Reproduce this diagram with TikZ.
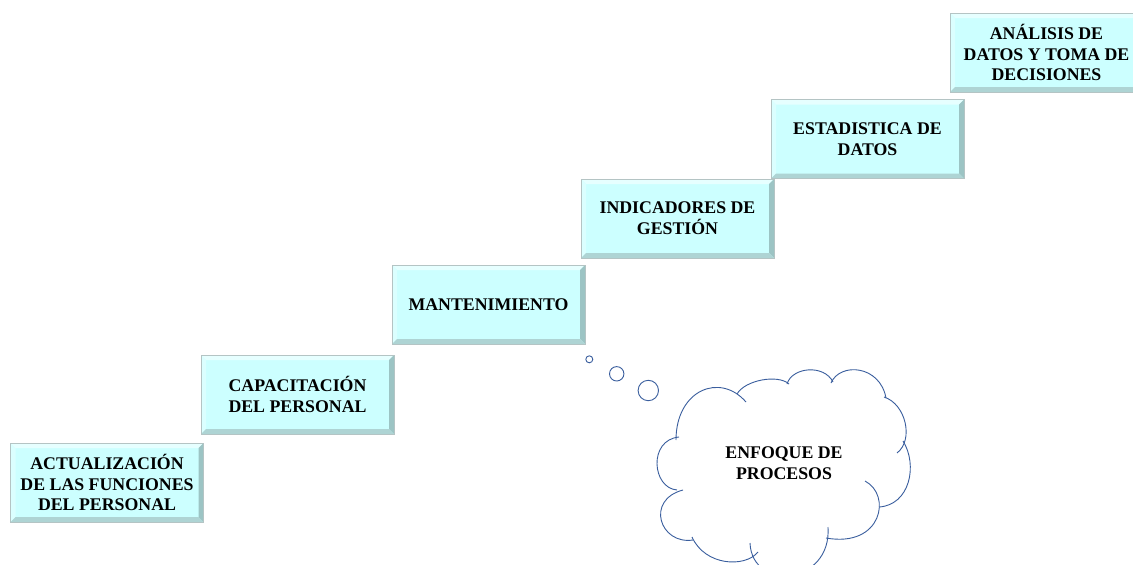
\documentclass[tikz,border=0pt]{standalone}
\usepackage{fontspec}
\setmainfont{Liberation Serif}
\definecolor{boxfill}{HTML}{CCFFFF}
\definecolor{bevtop}{HTML}{E6FFFF}
\definecolor{bevleft}{HTML}{DBFFFF}
\definecolor{bevright}{HTML}{9CC4C4}
\definecolor{bevbottom}{HTML}{AED4D4}
\definecolor{boxline}{HTML}{B4C4C4}
\definecolor{cloudline}{HTML}{3A5E9E}
\tikzset{
  stepbox/.style={minimum width=193pt, minimum height=79pt, inner sep=0pt,
    align=center, fill=boxfill, draw=boxline, line width=0.8pt,
    font=\bfseries\fontsize{17.8}{20.8}\selectfont,
    path picture={
      \fill[bevtop] (path picture bounding box.north west) -- (path picture bounding box.north east)
        -- ([xshift=-5pt,yshift=-5pt]path picture bounding box.north east)
        -- ([xshift=5pt,yshift=-5pt]path picture bounding box.north west) -- cycle;
      \fill[bevleft] (path picture bounding box.north west) -- (path picture bounding box.south west)
        -- ([xshift=5pt,yshift=5pt]path picture bounding box.south west)
        -- ([xshift=5pt,yshift=-5pt]path picture bounding box.north west) -- cycle;
      \fill[bevright] (path picture bounding box.north east) -- (path picture bounding box.south east)
        -- ([xshift=-5pt,yshift=5pt]path picture bounding box.south east)
        -- ([xshift=-5pt,yshift=-5pt]path picture bounding box.north east) -- cycle;
      \fill[bevbottom] (path picture bounding box.south west) -- (path picture bounding box.south east)
        -- ([xshift=-5pt,yshift=5pt]path picture bounding box.south east)
        -- ([xshift=5pt,yshift=5pt]path picture bounding box.south west) -- cycle;
    }},
  cloudpart/.style={draw=cloudline, line width=0.9pt},
  cloudtext/.style={align=center, font=\bfseries\fontsize{17.8}{21}\selectfont}
}
\begin{document}
\begin{tikzpicture}[x=1pt, y=-1pt]
\clip (0,0) rectangle (1133,565);
\fill[white] (0,0) rectangle (1133,565);

\node[stepbox] (b1) at (107,482.5) {ACTUALIZACIÓN\\DE LAS FUNCIONES\\DEL PERSONAL};
\node[stepbox] (b2) at (297.5,394.5) {CAPACITACIÓN\\DEL PERSONAL};
\node[stepbox] (b3) at (488.5,304.5) {MANTENIMIENTO};
\node[stepbox] (b4) at (677.5,218.5) {INDICADORES DE\\GESTIÓN};
\node[stepbox] (b5) at (867.5,139) {ESTADISTICA DE\\DATOS};
\node[stepbox] (b6) at (1046.5,52.5) {ANÁLISIS DE\\DATOS Y TOMA DE\\DECISIONES};

% thought bubbles
\draw[cloudpart] (589.3,359.3) circle[radius=3.5pt];
\draw[cloudpart] (616.7,373.8) circle[radius=7.2pt];
\draw[cloudpart] (648.3,390.5) circle[radius=10.2pt];

% cloud
\draw[cloudpart] (676,440) .. controls (676,390) and (720,372) .. (746,402);
\draw[cloudpart] (737,394) .. controls (745,380) and (778,374) .. (789,384);
\draw[cloudpart] (787,384) .. controls (792,367) and (824,364) .. (833,382);
\draw[cloudpart] (831,383) .. controls (840,362) and (880,365) .. (886,398);
\draw[cloudpart] (884,397) .. controls (906,404) and (914,440) .. (897,453);
\draw[cloudpart] (903,441) .. controls (918,465) and (910,505) .. (879,507);
\draw[cloudpart] (865,481) .. controls (892,495) and (882,548) .. (826,538);
\draw[cloudpart] (828,527) .. controls (832,585) and (752,592) .. (750,543);
\draw[cloudpart] (758,552) .. controls (745,568) and (705,566) .. (692,537);
\draw[cloudpart] (693,540) .. controls (660,545) and (645,500) .. (683,490);
\draw[cloudpart] (677,490) .. controls (652,488) and (648,440) .. (679,437);

\node[cloudtext] (enfoque) at (784,463) {ENFOQUE DE\\PROCESOS};
\end{tikzpicture}
\end{document}
